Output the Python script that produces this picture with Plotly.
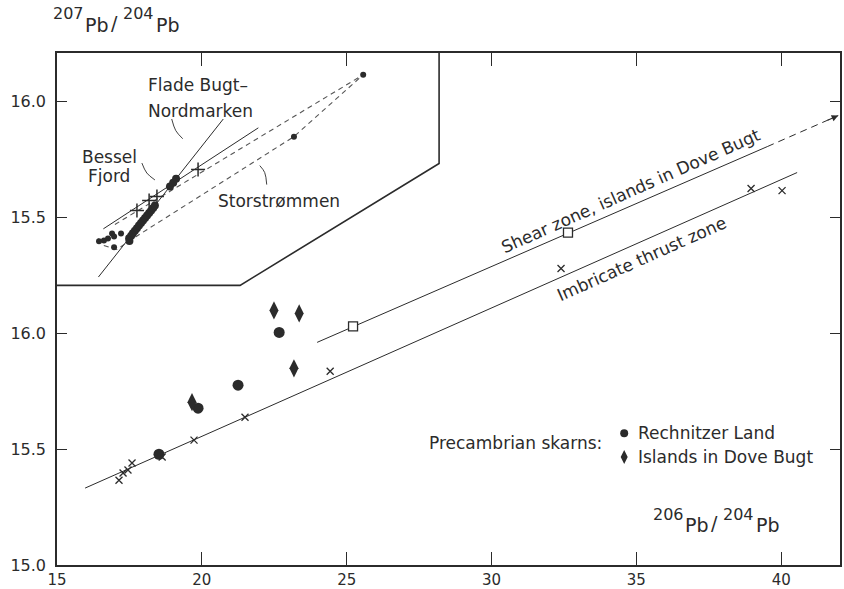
import plotly.graph_objects as go

FONT = "DejaVu Sans"
INK = "#2b2b2b"

# ---------------- main diagram data (206Pb/204Pb , 207Pb/204Pb) ----------------
x_ticks = [15, 20, 25, 30, 35, 40]
y_ticks = [15.0, 15.5, 16.0, 16.5, 17.0]
y_ticktext = ["15.0", "15.5", "16.0", "15.5", "16.0"]   # upper two belong to the inset scale

imbricate_x = [17.14, 17.28, 17.45, 17.59, 18.63, 19.73, 21.49, 24.43, 32.40, 38.96, 40.03]
imbricate_y = [15.366, 15.397, 15.410, 15.440, 15.466, 15.539, 15.638, 15.836, 16.280, 16.625, 16.616]
imbricate_line_x = [15.97, 40.55]
imbricate_line_y = [15.332, 16.694]

shear_x = [25.22, 32.64]
shear_y = [16.030, 16.435]
shear_line_x = [23.98, 39.52]
shear_line_y = [15.961, 16.806]
shear_ext_x = [39.52, 41.97]
shear_ext_y = [16.806, 16.940]

rechnitzer_x = [18.52, 19.87, 21.25, 22.67]
rechnitzer_y = [15.478, 15.677, 15.776, 16.004]
dove_x = [19.66, 22.49, 23.18, 23.36]
dove_y = [15.703, 16.099, 15.849, 16.086]

# ---------------- inset data (inset 207Pb/204Pb scale, shown 1.0 higher) ----------------
INSET_SHIFT = 1.0
inset_frame_x = [28.19, 28.19, 21.32, 15.0]
inset_frame_y = [16.21, 15.733, 15.207, 15.207]

flade_line_x = [16.43, 20.74]
flade_line_y = [15.243, 15.925]
bessel_line_x = [16.60, 21.95]
bessel_line_y = [15.451, 15.887]
stor_upper_x = [17.00, 25.57]
stor_upper_y = [15.470, 16.116]
stor_lower_x = [16.42, 16.62, 17.07, 17.52, 23.18, 25.57]
stor_lower_y = [15.409, 15.379, 15.362, 15.401, 15.849, 16.116]

flade_pts_x = [17.49, 17.50, 17.56, 17.62, 17.69, 17.76, 17.83, 17.90, 17.97, 18.04,
               18.11, 18.18, 18.25, 18.32, 18.38, 18.90, 19.01, 19.11]
flade_pts_y = [15.410, 15.399, 15.421, 15.432, 15.443, 15.454, 15.465, 15.476, 15.487, 15.498,
               15.509, 15.519, 15.530, 15.541, 15.552, 15.634, 15.650, 15.667]
bessel_pts_x = [16.45, 16.62, 16.76, 16.90, 16.97, 17.21, 16.97]
bessel_pts_y = [15.397, 15.401, 15.409, 15.431, 15.418, 15.431, 15.371]
bessel_cross_x = [17.76, 18.18, 18.45, 19.87]
bessel_cross_y = [15.530, 15.573, 15.591, 15.707]
stor_pts_x = [23.18, 25.57]
stor_pts_y = [15.849, 16.116]

# label leaders (inset scale)
flade_leader_x = [18.96, 19.10, 19.34]
flade_leader_y = [15.925, 15.875, 15.840]
bessel_leader_x = [17.93, 18.10, 18.38]
bessel_leader_y = [15.735, 15.692, 15.662]
stor_leader_x = [22.00, 22.17, 22.24]
stor_leader_y = [15.724, 15.694, 15.642]


def sh(vals):
    return [v + INSET_SHIFT for v in vals]


fig = go.Figure()


def line(x, y, dash=None, width=1.0, color=INK, shape="linear"):
    fig.add_trace(go.Scatter(x=x, y=y, mode="lines", showlegend=False, hoverinfo="skip",
                             line=dict(color=color, width=width, dash=dash, shape=shape)))


def pts(x, y, symbol, size, lw=1.2, color=INK):
    fig.add_trace(go.Scatter(x=x, y=y, mode="markers", showlegend=False,
                             marker=dict(symbol=symbol, size=size, color=color,
                                         line=dict(color=color, width=lw))))


# inset frame
line(inset_frame_x, sh(inset_frame_y), width=1.6)

# inset lines
line(flade_line_x, sh(flade_line_y), width=1.0)
line(bessel_line_x, sh(bessel_line_y), width=1.0)
line(stor_upper_x, sh(stor_upper_y), dash="5px,4px", width=1.1, color="#555")
line(stor_lower_x, sh(stor_lower_y), dash="5px,4px", width=1.1, color="#555")
line(flade_leader_x, sh(flade_leader_y), width=0.9, shape="spline")
line(bessel_leader_x, sh(bessel_leader_y), width=0.9, shape="spline")
line(stor_leader_x, sh(stor_leader_y), width=0.9, shape="spline")

# inset points
pts(flade_pts_x, sh(flade_pts_y), "circle", 8, lw=0)
pts(bessel_pts_x, sh(bessel_pts_y), "circle", 6, lw=0)
pts(stor_pts_x, sh(stor_pts_y), "circle", 6, lw=0)
pts(bessel_cross_x, sh(bessel_cross_y), "cross-thin", 10, lw=1.5)

# main lines
line(imbricate_line_x, imbricate_line_y, width=1.0)
line(shear_line_x, shear_line_y, width=1.0)
line(shear_ext_x, shear_ext_y, dash="7px,5px", width=1.0)

# main markers
pts(imbricate_x, imbricate_y, "x-thin", 7, lw=1.3)
fig.add_trace(go.Scatter(x=shear_x, y=shear_y, mode="markers", showlegend=False,
                         marker=dict(symbol="square", size=9, color="white",
                                     line=dict(color=INK, width=1.3))))
pts(rechnitzer_x, rechnitzer_y, "circle", 11, lw=0)
pts(dove_x, dove_y, "diamond-tall", 13, lw=0)

# legend marks
pts([34.58], [15.569], "circle", 8, lw=0)
pts([34.58], [15.466], "diamond-tall", 10, lw=0)

# arrow head at the end of the shear zone line
fig.add_annotation(x=shear_ext_x[-1], y=shear_ext_y[-1], ax=41.55, ay=16.917,
                   xref="x", yref="y", axref="x", ayref="y", text="", showarrow=True,
                   arrowhead=2, arrowsize=1.1, arrowwidth=1.2, arrowcolor=INK, standoff=0)


def dtext(x, y, s, size=17, angle=0, xanchor="center"):
    fig.add_annotation(x=x, y=y, xref="x", yref="y", text=s, showarrow=False,
                       textangle=angle, xanchor=xanchor, yanchor="middle",
                       font=dict(family=FONT, size=size, color=INK))


dtext(34.79, 16.616, "Shear zone, islands in Dove Bugt", angle=-24)
dtext(35.17, 16.323, "Imbricate thrust zone", angle=-24)
dtext(33.88, 15.526, "Precambrian skarns:", xanchor="right")
dtext(35.00, 15.569, "Rechnitzer Land", xanchor="left")
dtext(35.00, 15.466, "Islands in Dove Bugt", xanchor="left")

# inset labels
dtext(18.08, 17.074, "Flade Bugt–", xanchor="left")
dtext(18.08, 16.960, "Nordmarken", xanchor="left")
dtext(16.80, 16.759, "Bessel")
dtext(16.80, 16.681, "Fjord")
dtext(22.67, 16.573, "Storstrømmen")


# axis titles built from pieces (raised mass numbers)
def px_x(px):
    return (px - 57) / 783


def px_y(py):
    return (565 - py) / 512


def ptext(px, py, s, size):
    fig.add_annotation(x=px_x(px), y=px_y(py), xref="paper", yref="paper", text=s,
                       showarrow=False, xanchor="left", yanchor="middle", borderpad=0,
                       font=dict(family=FONT, size=size, color=INK))


for s, px, py, sz in [("207", 52, 13, 16), ("Pb", 84, 25, 19), ("/", 110, 23, 19),
                      ("204", 122, 13, 16), ("Pb", 155, 25, 19)]:
    ptext(px, py, s, sz)
for s, px, py, sz in [("206", 652, 514, 16), ("Pb", 684, 525, 19), ("/", 710, 523, 19),
                      ("204", 722, 514, 16), ("Pb", 755, 525, 19)]:
    ptext(px, py, s, sz)

axis_common = dict(showgrid=False, zeroline=False, showline=True, linecolor=INK, linewidth=1.5,
                   mirror="ticks", ticks="inside", tickcolor=INK, tickwidth=1.3)

fig.update_xaxes(range=[15, 42.03], tickvals=x_ticks, ticktext=[str(v) for v in x_ticks],
                 ticklen=13, ticklabelstandoff=0,
                 tickfont=dict(family=FONT, size=15, color=INK), **axis_common)
fig.update_yaxes(range=[15.0, 17.21], tickvals=y_ticks, ticktext=y_ticktext,
                 ticklen=10, ticklabelstandoff=6,
                 tickfont=dict(family=FONT, size=16, color=INK), **axis_common)

fig.update_layout(width=844, height=589, margin=dict(l=57, r=4, t=53, b=24, autoexpand=False),
                  plot_bgcolor="white", paper_bgcolor="white", showlegend=False)

fig.write_html("out.html", config={"displayModeBar": False},
               post_script="document.body.style.margin='0';document.body.style.padding='0';")
